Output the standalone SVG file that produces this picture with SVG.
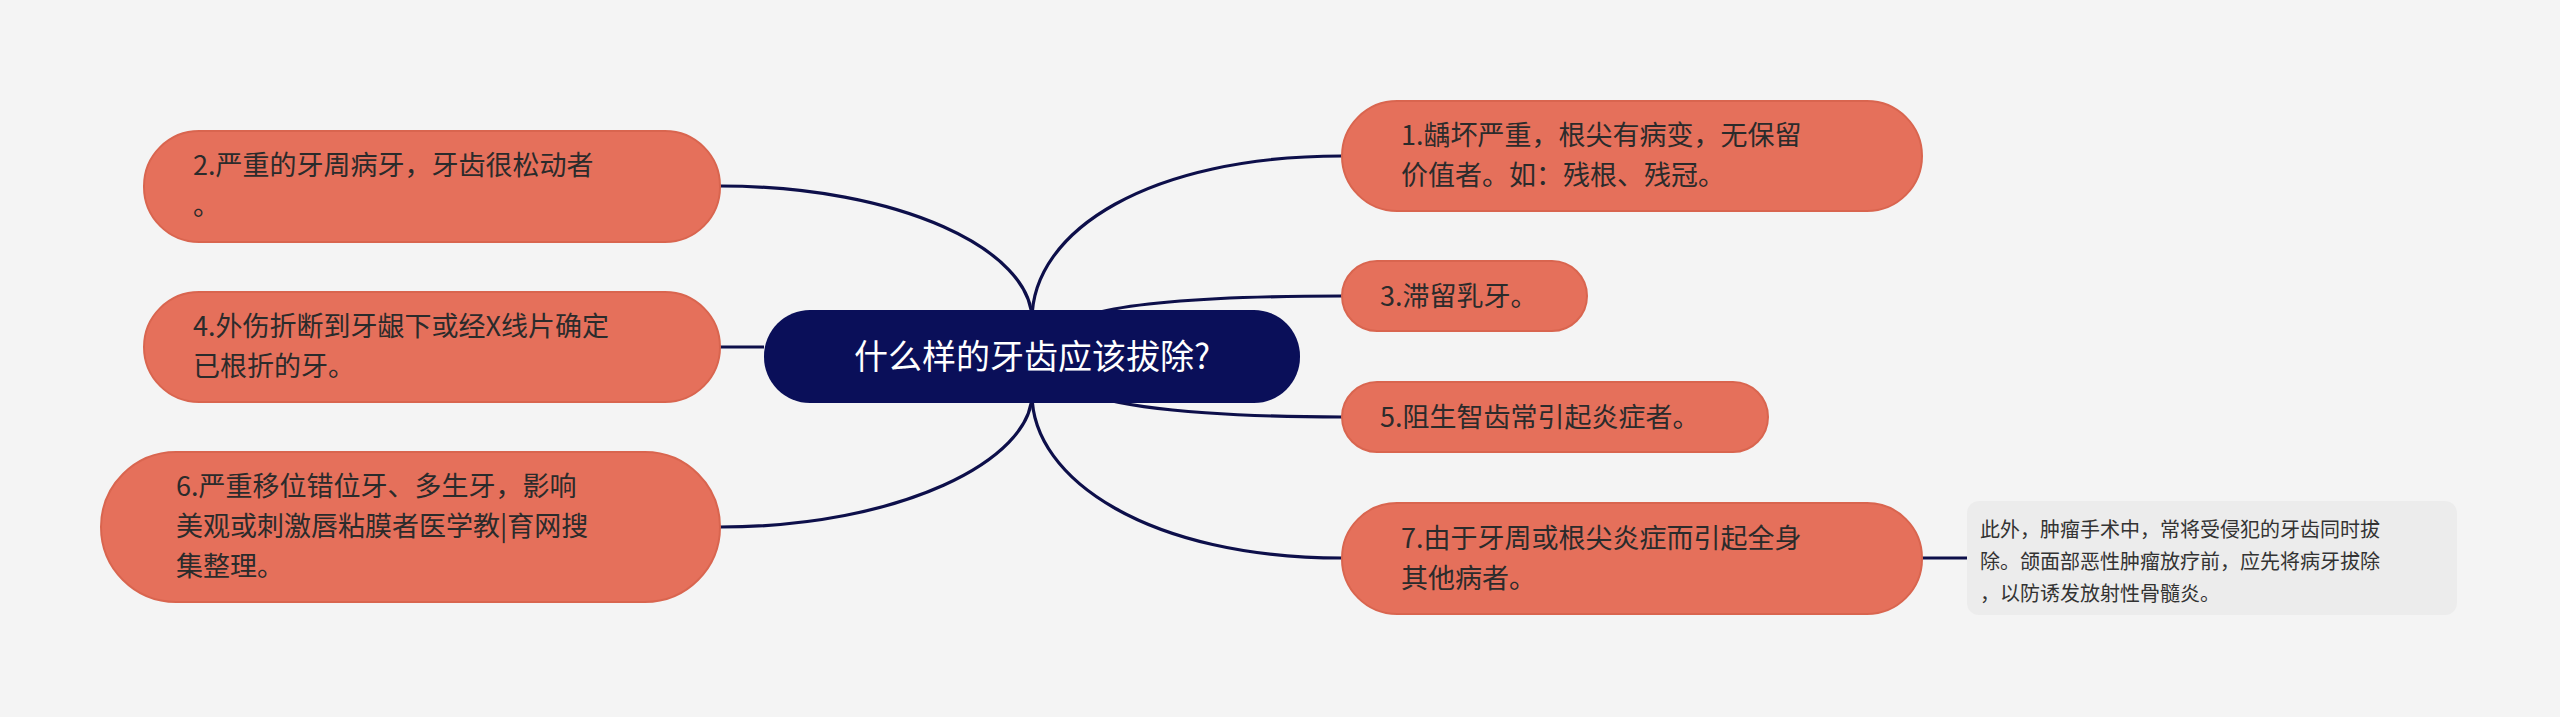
<svg xmlns="http://www.w3.org/2000/svg" width="2560" height="717" viewBox="0 0 2560 717">
<style>
.n rect{fill:#e5705b;stroke:#d9654f;stroke-width:2}
.n text{font-family:"Noto Sans CJK SC","Noto Sans",sans-serif;font-size:27px;fill:#2b2b2b}
.c path{fill:none;stroke:#0d0f4a;stroke-width:3.2}
.note text{font-family:"Noto Sans CJK SC","Noto Sans",sans-serif;font-size:20px;fill:#333}
</style>
<rect width="2560" height="717" fill="#f4f4f4"/>
<g class="c">
<path d="M1032 320 C1032 230 1150 156 1342 156"/>
<path d="M1100 312 C1150 300 1250 296 1342 296"/>
<path d="M1100 398 C1150 412 1250 417 1342 417"/>
<path d="M1032 394 C1032 480 1150 558 1342 558"/>
<path d="M1922 558 L1967 558"/>
<path d="M1032 320 C1032 250 900 186 720 186"/>
<path d="M720 347 L764 347"/>
<path d="M1032 394 C1032 460 900 527 720 527"/>
</g>
<g id="center"><rect x="764" y="310" width="536" height="93" rx="46" fill="#0a0f59"/>
<text x="1032" y="369" text-anchor="middle" font-family="Noto Sans CJK SC,sans-serif" font-size="34" fill="#fff">什么样的牙齿应该拔除?</text></g>
<g id="n1" class="n"><rect x="1342" y="101" width="580" height="110" rx="55"/><text x="1401" y="145">1.龋坏严重，根尖有病变，无保留</text><text x="1401" y="185">价值者。如：残根、残冠。</text></g>
<g id="n3" class="n"><rect x="1342" y="261" width="245" height="70" rx="35"/><text x="1380" y="306">3.滞留乳牙。</text></g>
<g id="n5" class="n"><rect x="1342" y="382" width="426" height="70" rx="35"/><text x="1380" y="427">5.阻生智齿常引起炎症者。</text></g>
<g id="n7" class="n"><rect x="1342" y="503" width="580" height="111" rx="55"/><text x="1401" y="548">7.由于牙周或根尖炎症而引起全身</text><text x="1401" y="588">其他病者。</text></g>
<g id="note" class="note"><rect x="1967" y="501" width="490" height="114" rx="12" fill="#ececec"/><text x="1980" y="537">此外，肿瘤手术中，常将受侵犯的牙齿同时拔</text><text x="1980" y="569">除。颌面部恶性肿瘤放疗前，应先将病牙拔除</text><text x="1980" y="601">，以防诱发放射性骨髓炎。</text></g>
<g id="n2" class="n"><rect x="144" y="131" width="576" height="111" rx="55"/><text x="193" y="175">2.严重的牙周病牙，牙齿很松动者</text><text x="193" y="215">。</text></g>
<g id="n4" class="n"><rect x="144" y="292" width="576" height="110" rx="55"/><text x="193" y="336">4.外伤折断到牙龈下或经X线片确定</text><text x="193" y="376">已根折的牙。</text></g>
<g id="n6" class="n"><rect x="101" y="452" width="619" height="150" rx="75"/><text x="176" y="496">6.严重移位错位牙、多生牙，影响</text><text x="176" y="536">美观或刺激唇粘膜者医学教|育网搜</text><text x="176" y="576">集整理。</text></g>
</svg>
